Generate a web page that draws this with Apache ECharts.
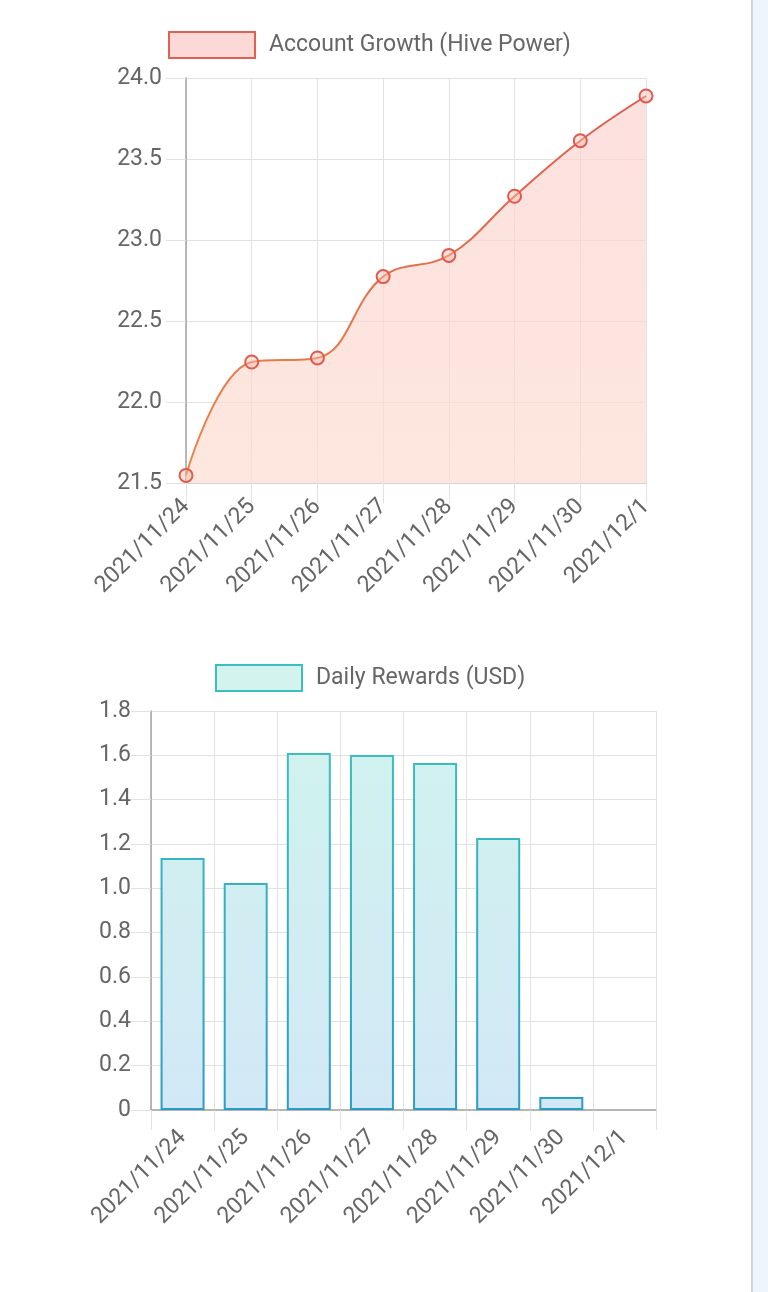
<!DOCTYPE html>
<html>
<head>
<meta charset="utf-8">
<script src="https://cdn.jsdelivr.net/npm/echarts@6/dist/echarts.min.js"></script>
<style>
html,body{margin:0;padding:0;background:#fff;}
#c{width:768px;height:1292px;}
</style>
</head>
<body>
<div id="c"></div>
<script>
const categories = ['2021/11/24','2021/11/25','2021/11/26','2021/11/27','2021/11/28','2021/11/29','2021/11/30','2021/12/1'];
const hivePower = [21.547, 22.247, 22.272, 22.774, 22.905, 23.270, 23.613, 23.889];
const dailyRewards = [1.137, 1.024, 1.610, 1.601, 1.565, 1.227, 0.059, 0];
const hpTicks = { min: 21.5, max: 24.0, interval: 0.5 };
const rwTicks = { min: 0, max: 1.8, interval: 0.2 };
const lineName = 'Account Growth (Hive Power)';
const barName = 'Daily Rewards (USD)';

const FONT = 'Roboto, "Noto Sans", sans-serif';
const FS = 23;
const LABEL = '#666666';
const GRID = '#e2e2e2';
const AXIS = '#a3a3a3';

function vgrad(y1, y2, c1, c2) {
  return new echarts.graphic.LinearGradient(0, y1, 0, y2, [
    { offset: 0, color: c1 }, { offset: 1, color: c2 }
  ], true);
}

const chart = echarts.init(document.getElementById('c'), null, { renderer: 'canvas' });

const barData = dailyRewards.map(v => v === 0 ? { value: v, itemStyle: { borderWidth: 0 } } : v);

const option = {
  animation: false,
  backgroundColor: '#ffffff',
  textStyle: { fontFamily: FONT },
  legend: [
    {
      left: 168, top: 31, padding: 0, selectedMode: false,
      icon: 'rect', itemWidth: 86, itemHeight: 26,
      textStyle: { fontSize: FS, color: LABEL, fontFamily: FONT, padding: [0, 0, 0, 9] },
      data: [{ name: lineName, itemStyle: { color: '#fcd9d6', borderColor: '#e06150', borderWidth: 2 } }]
    },
    {
      left: 215, top: 664, padding: 0, selectedMode: false,
      icon: 'rect', itemWidth: 86, itemHeight: 26,
      textStyle: { fontSize: FS, color: LABEL, fontFamily: FONT, padding: [0, 0, 0, 9] },
      data: [{ name: barName, itemStyle: { color: '#d3f3ef', borderColor: '#3cbfbc', borderWidth: 2 } }]
    }
  ],
  grid: [
    { left: 186, right: 122, top: 78, height: 405, containLabel: false },
    { left: 151, right: 112, top: 711, height: 399, containLabel: false }
  ],
  xAxis: [
    {
      gridIndex: 0, type: 'category', data: categories, boundaryGap: false,
      axisLine: { show: true, lineStyle: { color: '#d4d4d4', width: 1 } },
      axisTick: { show: true, length: 20, lineStyle: { color: GRID } },
      splitLine: { show: true, lineStyle: { color: GRID, width: 1 } },
      axisLabel: { rotate: 45, interval: 0, margin: 20, fontSize: FS, color: LABEL, fontFamily: FONT }
    },
    {
      gridIndex: 1, type: 'category', data: categories, boundaryGap: true,
      axisLine: { show: true, lineStyle: { color: AXIS, width: 1.5 } },
      axisTick: { show: true, length: 20, alignWithLabel: false, interval: 0, lineStyle: { color: GRID } },
      splitLine: { show: true, interval: 0, lineStyle: { color: GRID, width: 1 } },
      axisLabel: { rotate: 45, interval: 0, margin: 24, fontSize: FS, color: LABEL, fontFamily: FONT }
    }
  ],
  yAxis: [
    {
      gridIndex: 0, type: 'value', min: hpTicks.min, max: hpTicks.max, interval: hpTicks.interval,
      axisLine: { show: true, lineStyle: { color: AXIS, width: 1.5 } },
      axisTick: { show: true, length: 20, lineStyle: { color: GRID } },
      splitLine: { show: true, lineStyle: { color: GRID, width: 1 } },
      axisLabel: { margin: 24, fontSize: FS, color: LABEL, fontFamily: FONT, formatter: v => v.toFixed(1) }
    },
    {
      gridIndex: 1, type: 'value', min: rwTicks.min, max: rwTicks.max, interval: rwTicks.interval,
      axisLine: { show: true, lineStyle: { color: AXIS, width: 1.5 } },
      axisTick: { show: true, length: 20, lineStyle: { color: GRID } },
      splitLine: { show: true, lineStyle: { color: GRID, width: 1 } },
      axisLabel: { margin: 20, fontSize: FS, color: LABEL, fontFamily: FONT, formatter: v => v === 0 ? '0' : v.toFixed(1) }
    }
  ],
  series: [
    {
      name: lineName, type: 'line', xAxisIndex: 0, yAxisIndex: 0,
      data: hivePower, smooth: 0.4,
      symbol: 'circle', symbolSize: 13,
      lineStyle: { width: 2, color: vgrad(95, 475, '#df5a4c', '#e9884a') },
      itemStyle: { color: 'rgba(248,190,175,0.45)', borderColor: vgrad(95, 475, '#df5a4c', '#e9884a'), borderWidth: 2 },
      areaStyle: { origin: 'start', color: vgrad(78, 483, '#fbd3d0', '#fcddd0') },
      z: 3
    },
    {
      name: barName, type: 'bar', xAxisIndex: 1, yAxisIndex: 1,
      data: barData, barWidth: 44,
      itemStyle: {
        color: vgrad(711, 1110, '#d0f3ee', '#d2e8f6'),
        borderColor: vgrad(711, 1110, '#3dc2bc', '#2a9dc6'),
        borderWidth: 2
      }
    }
  ],
  graphic: [
    { type: 'rect', shape: { x: 753, y: 0, width: 15, height: 1292 }, style: { fill: '#eef5fd' }, silent: true },
    { type: 'rect', shape: { x: 751, y: 0, width: 2, height: 1292 }, style: { fill: '#d2d4d8' }, silent: true }
  ]
};
chart.setOption(option);
</script>
</body>
</html>
